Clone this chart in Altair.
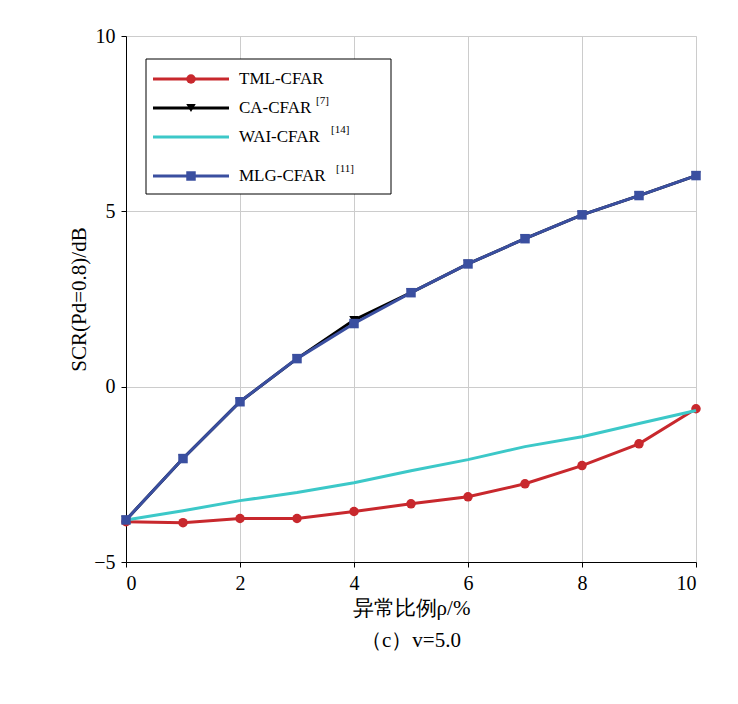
import pandas as pd
import altair as alt

x = list(range(11))
tml = [-3.85, -3.88, -3.76, -3.76, -3.56, -3.34, -3.14, -2.77, -2.25, -1.63, -0.63]
ca = [-3.8, -2.05, -0.43, 0.8, 1.9, 2.68, 3.5, 4.22, 4.9, 5.45, 6.02]
wai = [-3.8, -3.54, -3.25, -3.02, -2.74, -2.4, -2.08, -1.71, -1.43, -1.05, -0.68]
mlg = [-3.8, -2.05, -0.43, 0.8, 1.8, 2.68, 3.5, 4.22, 4.9, 5.45, 6.02]

names = ["TML-CFAR", "CA-CFAR", "WAI-CFAR", "MLG-CFAR"]
sups = ["", "[7]", "[14]", "[11]"]
sup_x = [0, 190, 205, 210]
colors = ["#c8282d", "#000000", "#3cc8c8", "#3a4fa0"]
shapes = ["circle", "triangle-down", None, "square"]

rows = []
for n, ys in zip(names, [tml, ca, wai, mlg]):
    for xi, yi in zip(x, ys):
        rows.append({"s": n, "x": xi, "y": yi})
df = pd.DataFrame(rows)

font = "Liberation Serif"
xs = alt.Scale(domain=[0, 10], nice=False)
ys_ = alt.Scale(domain=[-5, 10], nice=False)
W, H = 570, 526

layers = []
for n, c, sh in zip(names, colors, shapes):
    d = df[df.s == n]
    base = alt.Chart(d).encode(
        x=alt.X("x:Q", scale=xs, title="异常比例ρ/%",
                axis=alt.Axis(values=[0, 2, 4, 6, 8, 10], grid=True, gridColor="#cccccc",
                              labelFontSize=20, titleFontSize=21, labelFont=font, titleFont=font,
                              titleFontWeight="normal", domainColor="black", tickColor="black",
                              labelPadding=6)),
        y=alt.Y("y:Q", scale=ys_, title="SCR(Pd=0.8)/dB",
                axis=alt.Axis(values=[-5, 0, 5, 10], grid=True, gridColor="#cccccc",
                              labelFontSize=20, titleFontSize=21, labelFont=font, titleFont=font,
                              titleFontWeight="normal", domainColor="black", tickColor="black",
                              labelPadding=6)),
    )
    layers.append(base.mark_line(color=c, strokeWidth=3))
    if sh:
        layers.append(base.mark_point(shape=sh, filled=True, color=c, size=90, opacity=1))

# legend
ly = [43, 72, 101, 140]
box = alt.Chart(pd.DataFrame({"a": [0]})).mark_rect(fill="white", stroke="black", strokeWidth=1).encode(
    x=alt.value(20), x2=alt.value(265), y=alt.value(23), y2=alt.value(158))
layers.append(box)
for i, (n, s, c, sh) in enumerate(zip(names, sups, colors, shapes)):
    one = alt.Chart(pd.DataFrame({"n": [n], "s": [s]}))
    layers.append(one.mark_rule(color=c, strokeWidth=3).encode(
        x=alt.value(27), x2=alt.value(103), y=alt.value(ly[i])))
    if sh:
        layers.append(one.mark_point(shape=sh, filled=True, color=c, size=90, opacity=1).encode(
            x=alt.value(65), y=alt.value(ly[i])))
    layers.append(one.mark_text(align="left", baseline="middle", font=font, fontSize=17).encode(
        x=alt.value(113), y=alt.value(ly[i]), text="n:N"))
    if s:
        layers.append(one.mark_text(align="left", baseline="middle", font=font, fontSize=11).encode(
            x=alt.value(sup_x[i]), y=alt.value(ly[i] - 7), text="s:N"))

chart = alt.layer(*layers).properties(
    width=W, height=H,
    padding={"left": 60, "top": 18, "right": 5, "bottom": 5},
    title=alt.TitleParams("（c）v=5.0", orient="bottom", font=font, fontSize=21,
                          fontWeight="normal", offset=12),
).configure_view(stroke="black", strokeWidth=1.2).configure(background="white")

chart.save("out.html", embed_options={"renderer": "svg", "actions": False})
